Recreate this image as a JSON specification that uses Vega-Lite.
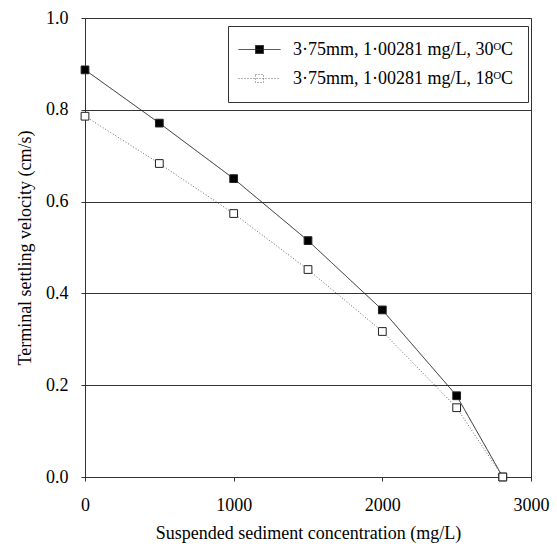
{
  "$schema": "https://vega.github.io/schema/vega-lite/v6.json",
  "autosize": "none",
  "width": 446,
  "height": 459,
  "padding": {"left": 85, "top": 18, "right": 26, "bottom": 69},
  "background": "white",
  "config": {
    "font": "Liberation Serif",
    "view": {"stroke": "#333", "strokeWidth": 1},
    "axis": {
      "labelFont": "Liberation Serif",
      "titleFont": "Liberation Serif",
      "labelFontSize": 18,
      "titleFontSize": 18,
      "titleFontWeight": "normal",
      "labelColor": "black",
      "titleColor": "black",
      "domainColor": "#333",
      "tickColor": "#333",
      "tickSize": 4,
      "gridColor": "#333",
      "gridOpacity": 1
    }
  },
  "data": {
    "values": [
      {"conc": 0, "vel": 0.887, "series": "3·75mm, 1·00281 mg/L, 30ᴼC"},
      {"conc": 500, "vel": 0.771, "series": "3·75mm, 1·00281 mg/L, 30ᴼC"},
      {"conc": 1000, "vel": 0.650, "series": "3·75mm, 1·00281 mg/L, 30ᴼC"},
      {"conc": 1500, "vel": 0.515, "series": "3·75mm, 1·00281 mg/L, 30ᴼC"},
      {"conc": 2000, "vel": 0.364, "series": "3·75mm, 1·00281 mg/L, 30ᴼC"},
      {"conc": 2500, "vel": 0.177, "series": "3·75mm, 1·00281 mg/L, 30ᴼC"},
      {"conc": 2810, "vel": 0.0, "series": "3·75mm, 1·00281 mg/L, 30ᴼC"},
      {"conc": 0, "vel": 0.786, "series": "3·75mm, 1·00281 mg/L, 18ᴼC"},
      {"conc": 500, "vel": 0.683, "series": "3·75mm, 1·00281 mg/L, 18ᴼC"},
      {"conc": 1000, "vel": 0.574, "series": "3·75mm, 1·00281 mg/L, 18ᴼC"},
      {"conc": 1500, "vel": 0.452, "series": "3·75mm, 1·00281 mg/L, 18ᴼC"},
      {"conc": 2000, "vel": 0.317, "series": "3·75mm, 1·00281 mg/L, 18ᴼC"},
      {"conc": 2500, "vel": 0.151, "series": "3·75mm, 1·00281 mg/L, 18ᴼC"},
      {"conc": 2810, "vel": 0.0, "series": "3·75mm, 1·00281 mg/L, 18ᴼC"}
    ]
  },
  "encoding": {
    "x": {
      "field": "conc",
      "type": "quantitative",
      "scale": {"domain": [0, 3000], "nice": false},
      "axis": {
        "title": "Suspended sediment concentration (mg/L)",
        "values": [0, 1000, 2000, 3000],
        "format": "d",
        "grid": false,
        "labelPadding": 15,
        "titlePadding": 10,
        "labelFlush": false
      }
    },
    "y": {
      "field": "vel",
      "type": "quantitative",
      "scale": {"domain": [0, 1], "nice": false},
      "axis": {
        "title": "Terminal settling velocity (cm/s)",
        "values": [0, 0.2, 0.4, 0.6, 0.8, 1.0],
        "format": ".1f",
        "grid": true,
        "labelPadding": 13,
        "titlePadding": 11,
        "labelFlush": false
      }
    }
  },
  "layer": [
    {
      "mark": {"type": "line", "strokeWidth": 1},
      "encoding": {
        "color": {
          "field": "series",
          "type": "nominal",
          "scale": {
            "domain": ["3·75mm, 1·00281 mg/L, 30ᴼC", "3·75mm, 1·00281 mg/L, 18ᴼC"],
            "range": ["#222222", "#666666"]
          },
          "legend": {
            "title": null,
            "orient": "none",
            "legendX": 143,
            "legendY": 8,
            "padding": 14,
            "rowPadding": 10,
            "fillColor": "white",
            "strokeColor": "#333",
            "labelFont": "Liberation Serif",
            "labelFontSize": 18,
            "labelColor": "black",
            "labelOffset": 32,
            "labelLimit": 400,
            "symbolType": "M-1.444,0H3.222M0.444,-0.444H1.333V0.444H0.444Z",
            "symbolSize": 324,
            "symbolStrokeWidth": 1,
            "encode": {
              "symbols": {
                "update": {
                  "fill": {"signal": "datum.value === '3·75mm, 1·00281 mg/L, 30ᴼC' ? 'black' : 'white'"},
                  "fillOpacity": {"value": 1}
                }
              }
            }
          }
        },
        "strokeDash": {
          "field": "series",
          "type": "nominal",
          "scale": {
            "domain": ["3·75mm, 1·00281 mg/L, 30ᴼC", "3·75mm, 1·00281 mg/L, 18ᴼC"],
            "range": [[1, 0], [1, 2]]
          },
          "legend": null
        }
      }
    },
    {
      "mark": {"type": "point", "shape": "square", "size": 60, "filled": true, "stroke": "#222", "strokeWidth": 1, "opacity": 1},
      "encoding": {
        "fill": {
          "field": "series",
          "type": "nominal",
          "scale": {
            "domain": ["3·75mm, 1·00281 mg/L, 30ᴼC", "3·75mm, 1·00281 mg/L, 18ᴼC"],
            "range": ["black", "white"]
          },
          "legend": null
        }
      }
    }
  ]
}
